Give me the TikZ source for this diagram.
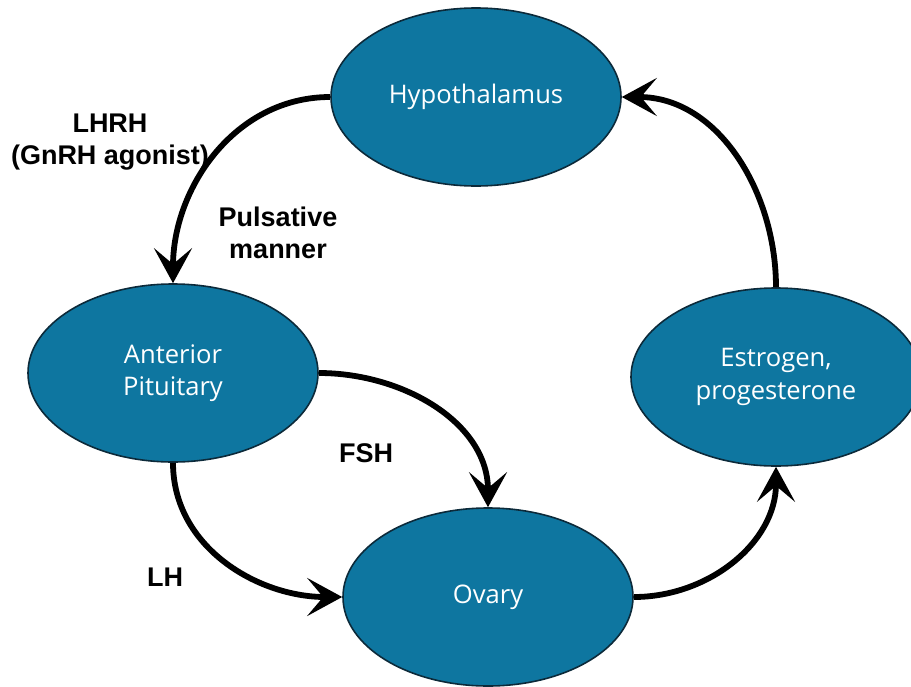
\documentclass[tikz,border=0pt]{standalone}
\usepackage{fontspec}
\setmainfont{Open Sans}
\setsansfont{Liberation Sans}
\usetikzlibrary{shapes.geometric,positioning,arrows.meta}
\definecolor{cellblue}{RGB}{14,118,160}
\definecolor{rimblue}{RGB}{12,42,58}

\begin{document}
\begin{tikzpicture}[x=0.5pt,y=0.5pt,->,>={Stealth[length=17.5pt,width=19pt,inset=8pt]},line width=2.9pt,on grid,
  main node/.style={ellipse,draw=rimblue,line width=0.8pt,fill=cellblue,text=white,minimum width=145pt,minimum height=89pt,inner sep=0pt,align=center,font=\fontsize{12.8}{16.3}\selectfont},
  hormone/.style={align=center,font=\sffamily\bfseries\fontsize{13.5}{16.3}\selectfont}]
  \useasboundingbox (0,0) rectangle (911,-686);

  \node[main node] (hyp) at (476,-97) {Hypothalamus};
  \node[main node] (ant) [below left=138pt and 151.5pt of hyp] {Anterior\\Pituitary};
  \node[main node] (est) [below right=140pt and 150pt of hyp] {Estrogen,\\progesterone};
  \node[main node] (ova) [below right=112pt and 157.5pt of ant] {Ovary};

  \node[hormone] (lhrh) at (110,-142) {LHRH\\(GnRH agonist)};
  \node[hormone] (puls) at (278,-233) {Pulsative\\manner};
  \node[hormone] (fsh) at (366,-453) {FSH};
  \node[hormone] (lh) at (165,-577) {LH};

  \path
    (hyp.west) edge[out=180,in=90] (ant.north)
    (ant.east) edge[out=0,in=90] (ova.north)
    (ant.south) edge[out=-90,in=180] (ova.west)
    (ova.east) edge[out=0,in=-90] (est.south)
    (est.north) edge[out=90,in=0] (hyp.east)
    ;
\end{tikzpicture}
\end{document}
